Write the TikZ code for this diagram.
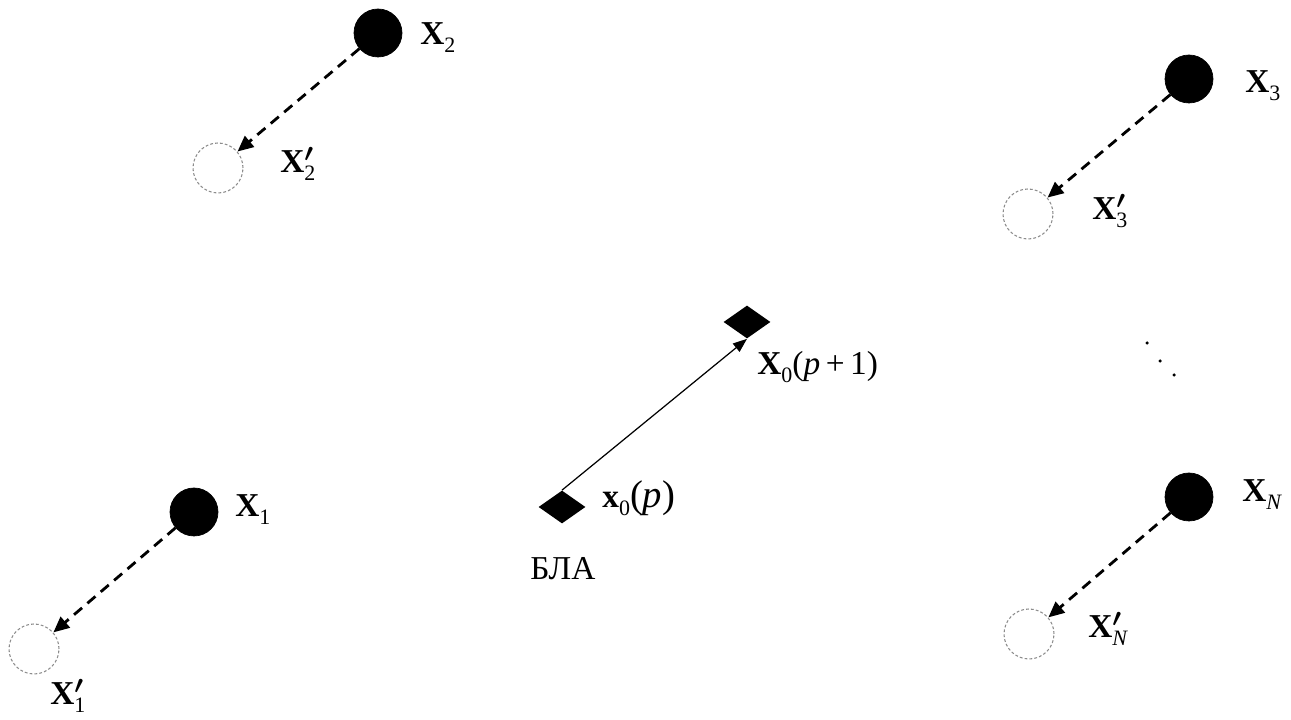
\documentclass[tikz,border=0pt]{standalone}
\usepackage{amsmath}
\usepackage{fontspec}
\setmainfont{Liberation Serif}
\usetikzlibrary{arrows.meta,shapes.geometric}

\newcommand{\lowsub}[1]{\raisebox{-4.5pt}{\fontsize{12.5}{13}\selectfont #1}}
\newcommand{\vX}[1]{\textbf{X}\lowsub{#1}}
\newcommand{\vXp}[1]{\textbf{X}\rlap{$^{\boldsymbol{\prime}}$}\lowsub{#1}}

\begin{document}
\begin{tikzpicture}[
    target/.style={circle, fill=black, draw=black, minimum size=0.96cm, inner sep=0pt},
    ghost/.style={circle, draw=gray!90, dash pattern=on 1.6pt off 1.2pt, line width=0.6pt,
                  minimum size=1.0cm, inner sep=0pt},
    uav/.style={diamond, fill=black, minimum width=0.94cm, minimum height=0.66cm, inner sep=0pt},
    lbl/.style={anchor=base west, inner sep=0pt, font=\fontsize{19}{21}\selectfont},
    drift/.style={line width=1.6pt, dash pattern=on 6pt off 4pt,
                  -{Triangle[length=9pt, width=8pt]}},
    fly/.style={line width=0.7pt, -{Triangle[length=8pt, width=6pt]}}
  ]

  % ================= frame =================
  \useasboundingbox (0,0) rectangle (25.82,14.4);

  % ================= targets and shifted positions =================
  \node[target] (x1) at (3.88,4.16)   {};
  \node[ghost]  (x1p) at (0.68,1.42)  {};
  \node[target] (x2) at (7.56,13.74)  {};
  \node[ghost]  (x2p) at (4.36,11.04) {};
  \node[target] (x3) at (23.78,12.82) {};
  \node[ghost]  (x3p) at (20.56,10.12){};
  \node[target] (xN) at (23.78,4.46)  {};
  \node[ghost]  (xNp) at (20.58,1.72) {};

  % ================= labels =================
  \node[lbl] (l1)  at (4.70,4.06)   {\vX{1}};
  \node[lbl] (l1p) at (1.00,0.30)   {\vXp{1}};
  \node[lbl] (l2)  at (8.40,13.50)  {\vX{2}};
  \node[lbl] (l2p) at (5.60,10.94)  {\vXp{2}};
  \node[lbl] (l3)  at (24.90,12.54) {\vX{3}};
  \node[lbl] (l3p) at (21.84,10.00) {\vXp{3}};
  \node[lbl] (lN)  at (24.84,4.36)  {\vX{\textit{N}}};
  \node[lbl] (lNp) at (21.76,1.64)  {\vXp{\textit{N}}};

  % ================= displacements =================
  \draw[drift] (x1) -- (x1p);
  \draw[drift] (x2) -- (x2p);
  \draw[drift] (x3) -- (x3p);
  \draw[drift] (xN) -- (xNp);

  % ================= UAV =================
  \node[uav] (p0) at (11.24,4.26) {};
  \node[uav] (p1) at (14.94,7.96) {};
  \draw[fly] (p0.north) -- (p1.south);
  \node[lbl] (lp0) at (12.04,4.24)
      {\textbf{x}\lowsub{0}{\fontsize{22}{24}\selectfont(\textit{p})}};
  \node[lbl] (lp1) at (15.14,6.90) {\textbf{X}\lowsub{0}(\textit{p}\,+\,1)};
  \node[lbl] (uavname) at (10.60,2.80) {БЛА};

  % ================= dots =================
  \foreach \px/\py in {22.94/7.54, 23.20/7.18, 23.48/6.90}
    \fill (\px,\py) circle (0.035);

\end{tikzpicture}
\end{document}
